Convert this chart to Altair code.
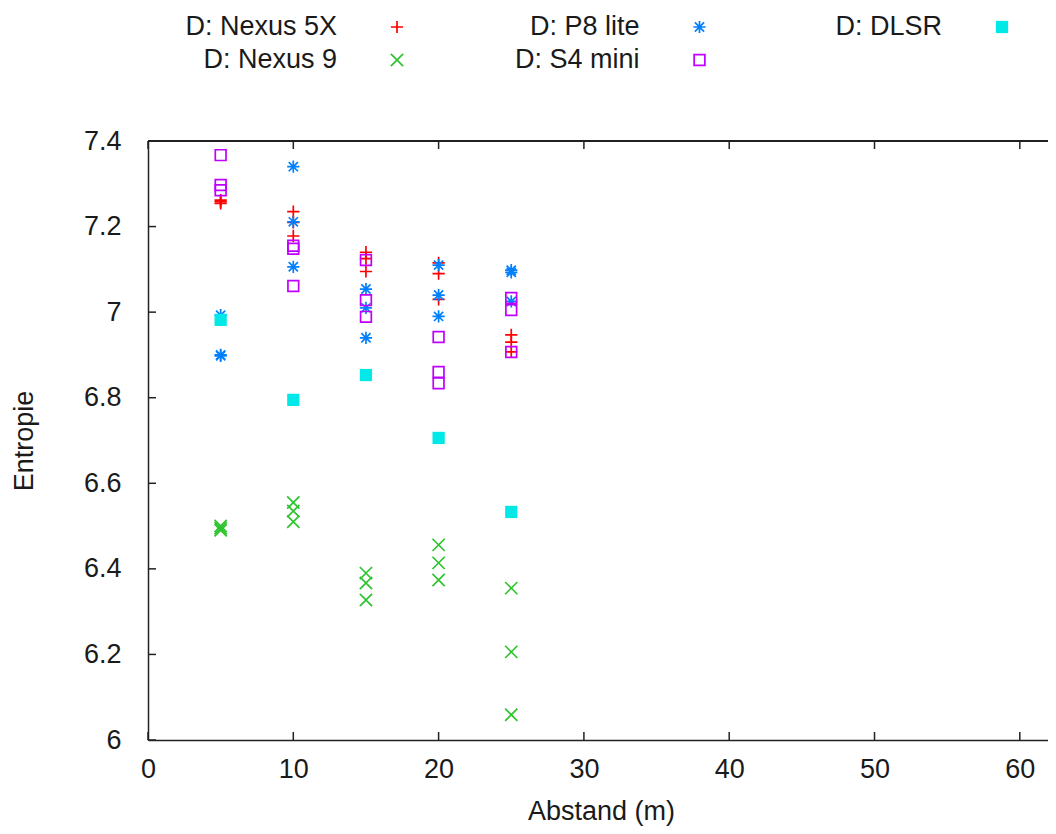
import altair as alt
import pandas as pd

# ---------------- data ----------------
distances = [5, 10, 15, 20, 25]

nexus5x = [[7.262, 7.258, 7.254], [7.235, 7.210, 7.178], [7.140, 7.125, 7.095],
           [7.115, 7.090, 7.030], [6.947, 6.930, 6.907]]
nexus9 = [[6.500, 6.495, 6.490], [6.555, 6.535, 6.510], [6.390, 6.367, 6.327],
          [6.456, 6.414, 6.374], [6.355, 6.206, 6.059]]
p8lite = [[6.993, 6.900, 6.898], [7.340, 7.211, 7.106], [7.054, 7.010, 6.940],
          [7.110, 7.040, 6.990], [7.098, 7.093, 7.025]]
s4mini = [[7.367, 7.297, 7.285], [7.155, 7.148, 7.061], [7.122, 7.028, 6.989],
          [6.942, 6.860, 6.834], [7.033, 7.005, 6.907]]
dlsr = [[6.982], [6.795], [6.853], [6.706], [6.533]]

series_names = ["D: Nexus 5X", "D: Nexus 9", "D: P8 lite", "D: S4 mini", "D: DLSR"]
series_values = [nexus5x, nexus9, p8lite, s4mini, dlsr]
series_colors = ["#ff0000", "#2ec42e", "#0080ff", "#c000ff", "#00e8e8"]
legend_col = [0, 0, 1, 1, 2]
legend_row = [0, 1, 0, 1, 0]

x_ticks = [0, 10, 20, 30, 40, 50, 60]
y_ticks = [6.0, 6.2, 6.4, 6.6, 6.8, 7.0, 7.2, 7.4]

# ---------------- styling ----------------
W, H = 900, 599
FONT = "Liberation Sans"
FS = 27
TXT = "#1a1a1a"
AX = "#222222"

PLUS = "M-1,0L1,0M0,-1L0,1"
CROSS = "M-1,-1L1,1M-1,1L1,-1"
STAR = "M-1,0L1,0M0,-1L0,1M-0.75,-0.75L0.75,0.75M-0.75,0.75L0.75,-0.75"
shapes = [PLUS, CROSS, STAR, "square", "square"]
filled = [False, False, False, False, True]
sizes = [150, 150, 150, 115, 150]

rows = []
for name, vals in zip(series_names, series_values):
    for d, group in zip(distances, vals):
        for v in group:
            rows.append({"series": name, "distance": d, "entropy": v})
df = pd.DataFrame(rows)

legend_df = pd.DataFrame({
    "series": series_names,
    "col": legend_col,
    "row": legend_row,
})

xscale = alt.Scale(domain=[0, 61.94], nice=False, zero=False)
yscale = alt.Scale(domain=[6.0, 7.4], nice=False, zero=False)

x_axis = alt.Axis(values=x_ticks, format="d", ticks=False, tickSize=0, grid=False,
                  domain=True, domainColor=AX, domainWidth=1.5, labelFlush=False,
                  labelFont=FONT, labelFontSize=FS, labelColor=TXT, labelPadding=16,
                  labelBaseline="top",
                  title="Abstand (m)", titleFont=FONT, titleFontSize=FS,
                  titleFontWeight="normal", titleColor=TXT,
                  titleX=453, titleY=79, titleAlign="center",
                  titleBaseline="alphabetic", titleAnchor="middle")
y_axis = alt.Axis(values=y_ticks, format=".1~f", ticks=False, tickSize=0, grid=False,
                  domain=True, domainColor=AX, domainWidth=1.5, labelFlush=False,
                  labelFont=FONT, labelFontSize=FS, labelColor=TXT, labelPadding=27,
                  title="Entropie", titleFont=FONT, titleFontSize=FS,
                  titleFontWeight="normal", titleColor=TXT,
                  titleAngle=270, titleX=-124, titleY=H / 2, titleAlign="center",
                  titleBaseline="middle")

X = alt.X("distance:Q", scale=xscale, axis=x_axis)
Y = alt.Y("entropy:Q", scale=yscale, axis=y_axis)

layers = []

# inward ticks (bottom, top, left) and top border
xt = pd.DataFrame({"distance": x_ticks})
yt = pd.DataFrame({"entropy": y_ticks})
layers.append(alt.Chart(xt).mark_rule(color=AX, strokeWidth=1.5).encode(
    x=X, y=alt.value(H), y2=alt.value(H - 8)))
layers.append(alt.Chart(xt).mark_rule(color=AX, strokeWidth=1.5).encode(
    x=X, y=alt.value(0), y2=alt.value(8)))
layers.append(alt.Chart(yt).mark_rule(color=AX, strokeWidth=1.5).encode(
    y=Y, x=alt.value(0), x2=alt.value(8)))
layers.append(alt.Chart(xt).mark_rule(color=AX, strokeWidth=1.5).encode(
    x=alt.value(0), x2=alt.value(W), y=alt.value(0)))

# data points
for name, color, shp, fl, sz in zip(series_names, series_colors, shapes, filled, sizes):
    sub = df[df["series"] == name]
    if fl:
        mk = alt.Chart(sub).mark_point(shape=shp, filled=True, fill=color, color=color,
                                       size=sz, opacity=1, strokeWidth=0)
    else:
        mk = alt.Chart(sub).mark_point(shape=shp, filled=False, stroke=color, color=color,
                                       size=sz, opacity=1, strokeWidth=1.7)
    layers.append(mk.encode(x=X, y=Y))

# legend (gnuplot style: label right-aligned, symbol on its right)
leg_base = alt.Chart(legend_df).transform_calculate(
    tx="189 + datum.col * 302.5",
    sx="189 + datum.col * 302.5 + 60",
    ly="-114 + datum.row * 33",
)
layers.append(leg_base.mark_text(align="right", baseline="middle", font=FONT,
                                 fontSize=FS, color=TXT).encode(
    x=alt.X("tx:Q", scale=None, axis=None),
    y=alt.Y("ly:Q", scale=None, axis=None),
    text="series:N"))
for name, color, shp, fl, sz in zip(series_names, series_colors, shapes, filled, sizes):
    sub = leg_base.transform_filter(alt.datum.series == name)
    if fl:
        mk = sub.mark_point(shape=shp, filled=True, fill=color, color=color,
                            size=sz, opacity=1, strokeWidth=0)
    else:
        mk = sub.mark_point(shape=shp, filled=False, stroke=color, color=color,
                            size=sz, opacity=1, strokeWidth=1.7)
    layers.append(mk.encode(x=alt.X("sx:Q", scale=None, axis=None),
                            y=alt.Y("ly:Q", scale=None, axis=None)))

chart = alt.layer(*layers).properties(
    width=W, height=H,
    autosize=alt.AutoSizeParams(type="none"),
    padding={"left": 140, "top": 133, "right": 0, "bottom": 86},
    background="white",
).configure_view(strokeWidth=0)

chart.save("out.html", embed_options={"renderer": "svg", "actions": False})
